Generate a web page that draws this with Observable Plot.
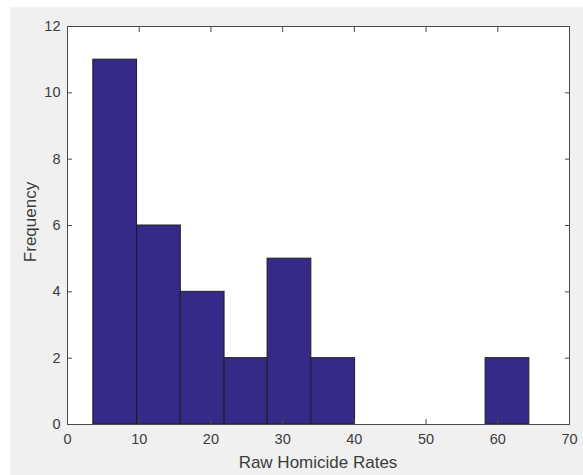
<!DOCTYPE html>
<html>
<head>
<meta charset="utf-8">
<script src="https://cdn.jsdelivr.net/npm/d3@7"></script>
<script src="https://cdn.jsdelivr.net/npm/@observablehq/plot@0.6"></script>
<style>
  body { margin: 0; background: #ffffff; }
  #fig { position: absolute; left: 10px; top: 7px; width: 573px; height: 468px; background: #f0f0f0; }
</style>
</head>
<body>
<div id="fig"></div>
<script>
// Histogram of raw homicide rates: bin edges and the count in each bin
const binEdges = [3.6, 9.7, 15.8, 21.9, 27.9, 34.0, 40.1, 46.1, 52.2, 58.3, 64.4];
const counts = [11, 6, 4, 2, 5, 2, 0, 0, 0, 2];
const xTicks = [0, 10, 20, 30, 40, 50, 60, 70];
const yTicks = [0, 2, 4, 6, 8, 10, 12];
const xLabel = "Raw Homicide Rates";
const yLabel = "Frequency";

const bins = counts
  .map((count, i) => ({ x1: binEdges[i], x2: binEdges[i + 1], count }))
  .filter(d => d.count > 0);

const axisColor = "#4a4a4a";
const noText = () => "";

const chart = Plot.plot({
  width: 573,
  height: 468,
  marginLeft: 57,
  marginTop: 19,
  marginRight: 14,
  marginBottom: 51,
  style: {
    background: "transparent",
    fontFamily: "'Liberation Sans', Arial, sans-serif",
    fontSize: "14.5px",
    color: "#3c3c3c"
  },
  x: { domain: [0, 70] },
  y: { domain: [0, 12] },
  marks: [
    Plot.frame({ fill: "white", stroke: null }),
    Plot.rectY(bins, { x1: "x1", x2: "x2", y: "count", fill: "#352a87", stroke: "#1e1e1e", strokeWidth: 1 }),
    Plot.axisX(xTicks, { anchor: "bottom", tickSize: -5, tickPadding: 14, stroke: axisColor, label: null }),
    Plot.axisX(xTicks, { anchor: "top", tickSize: -5, tickFormat: noText, stroke: axisColor, label: null }),
    Plot.axisY(yTicks, { anchor: "left", tickSize: -5, tickPadding: 12, stroke: axisColor, label: null }),
    Plot.axisY(yTicks, { anchor: "right", tickSize: -5, tickFormat: noText, stroke: axisColor, label: null }),
    Plot.frame({ stroke: axisColor, strokeWidth: 1 })
  ]
});

// Axis titles, placed around the frame in the same coordinate system
const svg = d3.select(chart);
const xScale = chart.scale("x");
const yScale = chart.scale("y");
const cx = (xScale.range[0] + xScale.range[1]) / 2;
const cy = (yScale.range[0] + yScale.range[1]) / 2;
svg.append("text")
  .attr("x", cx)
  .attr("y", yScale.range[0] + 44)
  .attr("text-anchor", "middle")
  .attr("font-size", "17px")
  .attr("fill", "#3c3c3c")
  .text(xLabel);
svg.append("text")
  .attr("transform", `translate(${xScale.range[0] - 37},${cy - 3}) rotate(-90)`)
  .attr("text-anchor", "middle")
  .attr("dy", "0.35em")
  .attr("font-size", "17px")
  .attr("fill", "#3c3c3c")
  .text(yLabel);

document.getElementById("fig").appendChild(chart);
</script>
</body>
</html>
